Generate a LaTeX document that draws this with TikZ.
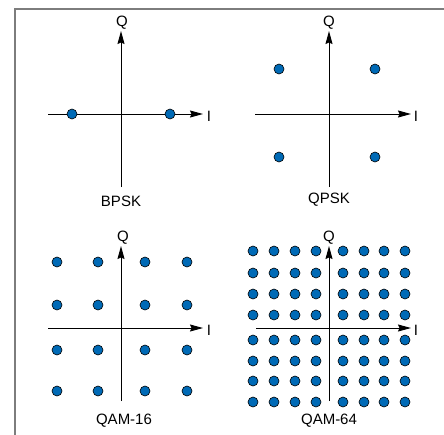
\documentclass[tikz,border=0pt]{standalone}
\usepackage{fontspec}
\setmainfont{Liberation Sans}
\usetikzlibrary{arrows.meta}
\definecolor{dotblue}{RGB}{0,106,182}
\definecolor{framegray}{RGB}{125,125,125}
\tikzset{
  pt/.style={circle,draw=black,line width=0.6pt,fill=dotblue,minimum size=10pt,inner sep=0pt},
  axis/.style={draw=black,line width=1pt,-{Stealth[length=13pt,width=7pt,inset=1.5pt]}},
  lbl/.style={font=\fontsize{15}{17}\selectfont,inner sep=0pt},
  framestyle/.style={draw=framegray,line width=2pt}
}
\begin{document}
\begin{tikzpicture}[x=1pt,y=-1pt]
\useasboundingbox (0,0) rectangle (444,434);
% frame
\coordinate (f1) at (445,8.5);
\coordinate (f2) at (14.5,8.5);
\coordinate (f3) at (14.5,435);
\draw[framestyle] (f1) -- (f2) -- (f3);

% ---------- BPSK ----------
\coordinate (b-top) at (121,31);
\coordinate (b-bot) at (121,187);
\coordinate (b-left) at (48,114);
\coordinate (b-right) at (203,114);
\draw[axis] (b-bot) -- (b-top);
\draw[axis] (b-left) -- (b-right);
\node[lbl] (b-Q) at (122,22.5) {Q};
\node[lbl] (b-I) at (209,116) {I};
\node[pt] (b-p1) at (72,114) {};
\node[pt] (b-p2) at (170,114) {};
\node[lbl] (b-name) at (121,201) {BPSK};

% ---------- QPSK ----------
\coordinate (q-top) at (329,31);
\coordinate (q-bot) at (329,187);
\coordinate (q-left) at (255,114);
\coordinate (q-right) at (411,114);
\draw[axis] (q-bot) -- (q-top);
\draw[axis] (q-left) -- (q-right);
\node[lbl] (q-Q) at (329,22.5) {Q};
\node[lbl] (q-I) at (416,116) {I};
\foreach \x/\i in {279/1,375/2}
  \foreach \y/\j in {69/1,157/2}
    \node[pt] (q-p\i\j) at (\x,\y) {};
\node[lbl] (q-name) at (329,200) {QPSK};

% ---------- QAM-16 ----------
\coordinate (m-top) at (121,246);
\coordinate (m-bot) at (121,401);
\coordinate (m-left) at (48,328);
\coordinate (m-right) at (203,328);
\draw[axis] (m-bot) -- (m-top);
\draw[axis] (m-left) -- (m-right);
\node[lbl] (m-Q) at (123,238) {Q};
\node[lbl] (m-I) at (209,330) {I};
\foreach \x/\i in {57/1,98/2,145/3,187/4}
  \foreach \y/\j in {262/1,305/2,350/3,391/4}
    \node[pt] (m-p\i\j) at (\x,\y) {};
\node[lbl] (m-name) at (124,421) {QAM-16};

% ---------- QAM-64 ----------
\coordinate (n-top) at (329,246);
\coordinate (n-bot) at (329,401);
\coordinate (n-left) at (256,328);
\coordinate (n-right) at (411,328);
\draw[axis] (n-bot) -- (n-top);
\draw[axis] (n-left) -- (n-right);
\node[lbl] (n-Q) at (329,238) {Q};
\node[lbl] (n-I) at (416,330) {I};
\foreach \x/\i in {253/1,274/2,295/3,316/4,343/5,364/6,384/7,405/8}
  \foreach \y/\j in {251/1,273/2,294/3,315/4,340/5,361/6,381/7,402/8}
    \node[pt] (n-p\i\j) at (\x,\y) {};
\node[lbl] (n-name) at (329,421) {QAM-64};
\end{tikzpicture}
\end{document}
